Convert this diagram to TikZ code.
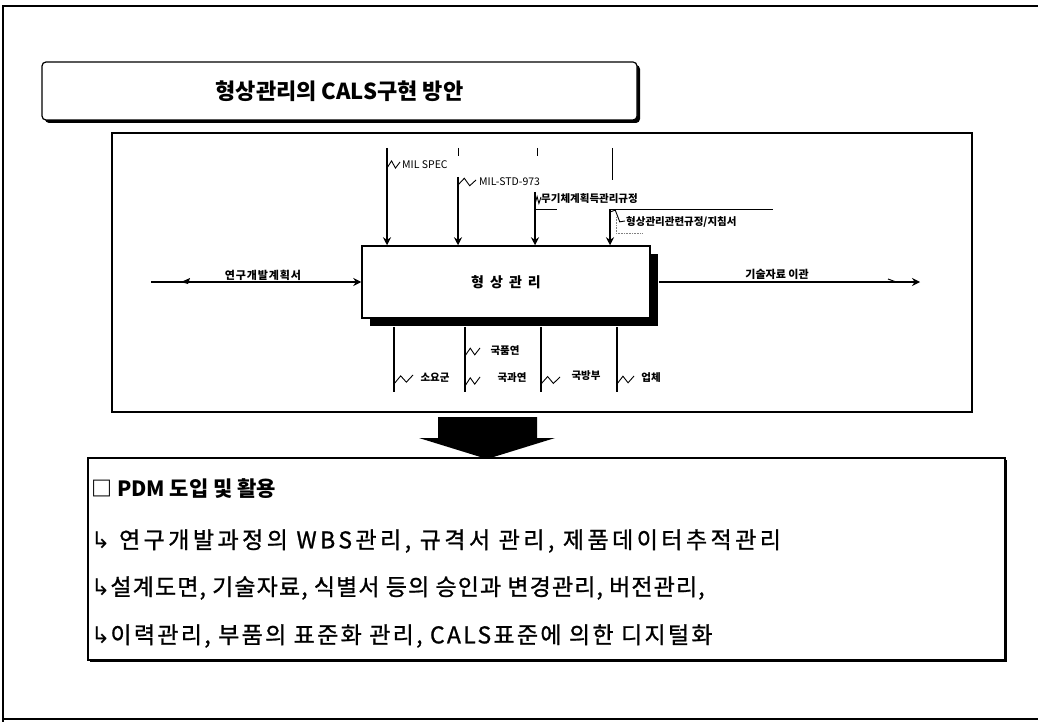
\documentclass[tikz,border=0pt]{standalone}
\usepackage{fontspec}
\setmainfont{Noto Sans CJK KR}
\newfontfamily\arrowfont{DejaVu Sans}
\usetikzlibrary{arrows.meta,calc,shadows}
\newcommand\squig[2]{\draw[sqline] (#1) -- ($(#1)!0.35!(#2)+(0,-5)$) -- ($(#1)!0.65!(#2)+(0,4)$) -- (#2);}
\begin{document}
\begin{tikzpicture}[x=1pt,y=-1pt,
  frameline/.style={line width=2pt},
  ctrl/.style={line width=1.4pt,-{Stealth[length=8pt,width=8pt]}},
  plainline/.style={line width=1.4pt},
  thinline/.style={line width=1pt},
  sqline/.style={line width=0.9pt},
  lbl/.style={font=\fontsize{10.5}{12}\selectfont\bfseries,inner sep=0pt},
  lbllat/.style={font=\fontsize{10.5}{12}\selectfont,inner sep=0pt},
  txt/.style={font=\fontsize{23}{26}\selectfont,inner sep=0pt,anchor=west},
  shadowbox/.style={drop shadow={shadow xshift=#1,shadow yshift=-#1,opacity=1,fill=black}}
]
\useasboundingbox (0,0) rectangle (1038,722);
% outer frame
\draw[frameline] (3,722) -- (3,6) -- (1038,6);
\draw[frameline] (3,719) -- (1038,719);

% title
\node[draw,line width=1.2pt,fill=white,rounded corners=4pt,minimum width=595pt,minimum height=58pt,
  shadowbox=3pt,font=\fontsize{22}{24}\selectfont\bfseries] (title) at (339.5,91) {형상관리의 CALS구현 방안};

% diagram frame
\node[draw,line width=1.5pt,minimum width=860pt,minimum height=279pt,inner sep=0pt] (diag) at (542,272.5) {};

% main activity box
\node[draw,line width=1.5pt,fill=white,minimum width=288pt,minimum height=72pt,shadowbox=8pt,
  font=\fontsize{14}{16}\selectfont\bfseries] (main) at (506,282) {형\hspace{6pt}상\hspace{6pt}관\hspace{6pt}리};

% controls (top)
\coordinate (t1) at (387,148);
\coordinate (t2) at (458,177);
\coordinate (t3) at (535,192);
\coordinate (t4) at (610,209);
\draw[ctrl] (t1) -- (t1 |- main.north);
\draw[ctrl] (t2) -- (t2 |- main.north);
\draw[ctrl] (t3) -- (t3 |- main.north);
\draw[ctrl] (t4) -- (t4 |- main.north);
\draw[thinline] (458,148) -- (458,156);
\draw[thinline] (537,148) -- (537,156);
\draw[thinline] (612,148) -- (612,180);
\draw[thinline] (t3) ++(0,17) -- (557,209);
\draw[thinline] (t4) -- (773,209);
\draw[densely dotted,gray,line width=0.6pt] (616,217) -- (616,233) -- (643,233);

\node[lbllat,anchor=west] (lms) at (402,165) {MIL SPEC};
\node[lbllat,anchor=west] (lstd) at (479,182) {MIL-STD-973};
\node[lbl,anchor=west] (lwpn) at (541,199) {무기체계획득관리규정};
\node[lbl,anchor=west] (lcm) at (626,222) {형상관리관련규정/지침서};
\squig{387,168}{400,162}
\squig{458,185}{476,180}
\squig{535,204}{541,197}
\squig{610,212}{625,221}

% input
\coordinate (in1) at (151,282);
\draw[ctrl] (in1) -- (main.west);
\fill (181,282) -- (190,278) -- (188,284) -- cycle;
\node[lbl,font=\fontsize{11}{12}\selectfont\bfseries\addfontfeatures{LetterSpace=8}] (lin) at (263,275) {연구개발계획서};

% output
\coordinate (out1) at (920,282);
\draw[ctrl] ($(main.east)+(8,0)$) -- (out1);
\draw[thinline] (888,279) -- (896,282);
\node[lbl,font=\fontsize{11}{12}\selectfont\bfseries] (lout) at (777,274) {기술자료 이관};

% mechanisms (bottom)
\coordinate (b1) at (394,392);
\coordinate (b2) at (465,392);
\coordinate (b3) at (541,392);
\coordinate (b4) at (617,392);
\draw[plainline] ($(main.south -| b1)+(0,8)$) -- (b1);
\draw[plainline] ($(main.south -| b2)+(0,8)$) -- (b2);
\draw[plainline] ($(main.south -| b3)+(0,8)$) -- (b3);
\draw[plainline] ($(main.south -| b4)+(0,8)$) -- (b4);
\node[lbl] (m1) at (435,378) {소요군};
\node[lbl] (m2) at (505,351) {국품연};
\node[lbl] (m3) at (512,378) {국과연};
\node[lbl] (m4) at (586,376) {국방부};
\node[lbl] (m5) at (651,378) {업체};
\squig{394,384}{413,375}
\squig{465,356}{480,348}
\squig{465,386}{480,377}
\squig{541,384}{560,377}
\squig{617,384}{634,376}

% big arrow
\fill (438,417) -- (537,417) -- (537,438) -- (555,438) -- (487,459) -- (419,438) -- (438,438) -- cycle;

% bottom note box
\node[draw,line width=1.5pt,fill=white,minimum width=917pt,minimum height=202pt,shadowbox=2pt] (note) at (546.5,559) {};
\node[txt,font=\fontsize{21}{26}\selectfont\bfseries] (n1) at (91,489) {□ PDM 도입 및 활용};
\node[txt,font=\fontsize{23}{26}\selectfont\addfontfeatures{LetterSpace=15,FakeBold=1}] (n2) at (91,541) {{\arrowfont ↳} 연구개발과정의 WBS관리, 규격서 관리, 제품데이터추적관리};
\node[txt,font=\fontsize{23}{26}\selectfont\addfontfeatures{LetterSpace=4.8,FakeBold=1}] (n3) at (91,588) {{\arrowfont ↳}설계도면, 기술자료, 식별서 등의 승인과 변경관리, 버전관리,};
\node[txt,font=\fontsize{23}{26}\selectfont\addfontfeatures{LetterSpace=10,FakeBold=1}] (n4) at (91,636) {{\arrowfont ↳}이력관리, 부품의 표준화 관리, CALS표준에 의한 디지털화};
\end{tikzpicture}
\end{document}
